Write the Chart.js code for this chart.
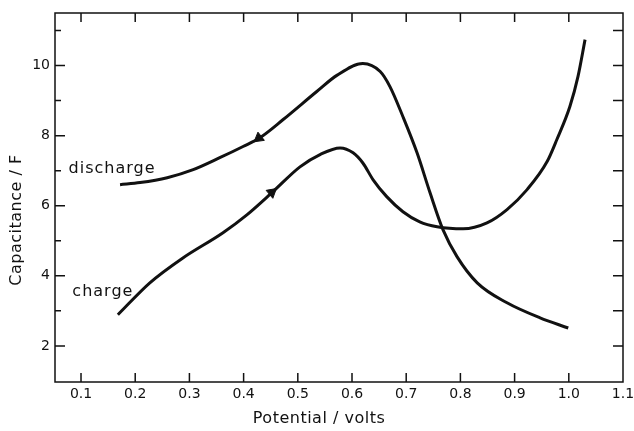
<!DOCTYPE html>
<html>
<head>
<meta charset="utf-8">
<script src="https://cdn.jsdelivr.net/npm/chart.js@4"></script>
<style>
  html, body { margin: 0; padding: 0; background: #fff; }
  #wrap { width: 634px; height: 431px; }
</style>
</head>
<body>
<div id="wrap"><canvas id="myChart" width="634" height="431"></canvas></div>
<script>
// curva de descarga (de cima)
var dischargeX = [0.172, 0.209, 0.259, 0.307, 0.356, 0.399, 0.430, 0.473, 0.535, 0.572, 0.620, 0.652, 0.670, 0.694, 0.720, 0.744, 0.768, 0.794, 0.831, 0.886, 0.947, 0.999];
var dischargeY = [6.60, 6.66, 6.80, 7.03, 7.37, 7.69, 7.94, 8.46, 9.26, 9.72, 10.06, 9.83, 9.40, 8.54, 7.51, 6.37, 5.31, 4.54, 3.80, 3.23, 2.80, 2.51];

// curva de carga (de baixo)
var chargeX = [0.168, 0.227, 0.288, 0.362, 0.406, 0.454, 0.504, 0.541, 0.578, 0.602, 0.620, 0.639, 0.664, 0.694, 0.725, 0.757, 0.805, 0.849, 0.886, 0.923, 0.960, 0.978, 1.002, 1.017, 1.030];
var chargeY = [2.89, 3.80, 4.51, 5.23, 5.74, 6.40, 7.11, 7.46, 7.65, 7.51, 7.22, 6.74, 6.26, 5.83, 5.54, 5.40, 5.34, 5.51, 5.89, 6.46, 7.26, 7.89, 8.83, 9.69, 10.74];

// setas (posicao e direcao)
var arrowDischarge = { x: 0.428, y: 7.93, rot: 232 };
var arrowCharge = { x: 0.452, y: 6.38, rot: 50 };

var xTicks = [0.1, 0.2, 0.3, 0.4, 0.5, 0.6, 0.7, 0.8, 0.9, 1.0, 1.1];
var yTicks = [2, 4, 6, 8, 10];
var yMinor = [3, 5, 7, 9, 11];

var curveLabels = [
    { text: 'discharge', x: 0.077, y: 7.05 },
    { text: 'charge', x: 0.084, y: 3.54 }
];

function pontos(xs, ys) {
    var lista = [];
    for (var i = 0; i < xs.length; i++) {
        lista.push({ x: xs[i], y: ys[i] });
    }
    return lista;
}

const fonte = "'DejaVu Sans', sans-serif";
const tinta = '#111';

// moldura, ticks para dentro, rotulos e titulos
const molduraPlugin = {
    id: 'moldura',
    afterDatasetsDraw(chart) {
        const ctx = chart.ctx;
        const a = chart.chartArea;
        const sx = chart.scales.x;
        const sy = chart.scales.y;
        ctx.save();
        ctx.strokeStyle = tinta;
        ctx.lineWidth = 1.5;
        ctx.strokeRect(a.left, a.top, a.right - a.left, a.bottom - a.top);

        ctx.beginPath();
        xTicks.forEach(v => {
            const px = sx.getPixelForValue(v);
            if (px > a.right - 2) return;
            ctx.moveTo(px, a.bottom);
            ctx.lineTo(px, a.bottom - 9);
            ctx.moveTo(px, a.top);
            ctx.lineTo(px, a.top + 9);
        });
        yTicks.forEach(v => {
            const py = sy.getPixelForValue(v);
            ctx.moveTo(a.left, py);
            ctx.lineTo(a.left + 10, py);
            ctx.moveTo(a.right, py);
            ctx.lineTo(a.right - 10, py);
        });
        yMinor.forEach(v => {
            const py = sy.getPixelForValue(v);
            ctx.moveTo(a.left, py);
            ctx.lineTo(a.left + 6, py);
            ctx.moveTo(a.right, py);
            ctx.lineTo(a.right - 10, py);
        });
        ctx.stroke();

        ctx.fillStyle = tinta;
        ctx.font = '16px ' + fonte;
        ctx.letterSpacing = '1px';
        ctx.textBaseline = 'middle';
        ctx.textAlign = 'left';
        curveLabels.forEach(l => {
            ctx.fillText(l.text, sx.getPixelForValue(l.x), sy.getPixelForValue(l.y));
        });

        ctx.letterSpacing = '0.5px';
        ctx.textAlign = 'center';
        ctx.fillText('Potential / volts', 319, 419);
        ctx.translate(17, 220);
        ctx.rotate(-Math.PI / 2);
        ctx.fillText('Capacitance / F', 0, 0);
        ctx.restore();
    }
};

const config = {
    type: 'scatter',
    data: {
        datasets: [{
            label: 'discharge',
            data: pontos(dischargeX, dischargeY),
            showLine: true,
            borderColor: tinta,
            borderWidth: 3,
            pointRadius: 0,
            cubicInterpolationMode: 'monotone'
        }, {
            label: 'charge',
            data: pontos(chargeX, chargeY),
            showLine: true,
            borderColor: tinta,
            borderWidth: 3,
            pointRadius: 0,
            cubicInterpolationMode: 'monotone'
        }, {
            label: 'seta descarga',
            data: [{ x: arrowDischarge.x, y: arrowDischarge.y }],
            pointStyle: 'triangle',
            pointRadius: 6,
            rotation: arrowDischarge.rot,
            backgroundColor: tinta,
            borderColor: tinta,
            borderWidth: 1
        }, {
            label: 'seta carga',
            data: [{ x: arrowCharge.x, y: arrowCharge.y }],
            pointStyle: 'triangle',
            pointRadius: 6,
            rotation: arrowCharge.rot,
            backgroundColor: tinta,
            borderColor: tinta,
            borderWidth: 1
        }]
    },
    options: {
        responsive: false,
        animation: false,
        layout: { padding: { top: 13, right: 11, left: 0, bottom: 0 } },
        plugins: {
            legend: { display: false },
            tooltip: { enabled: false }
        },
        scales: {
            x: {
                type: 'linear',
                min: 0.052,
                max: 1.1,
                grid: { display: false, drawTicks: false },
                border: { display: false },
                afterBuildTicks: s => { s.ticks = xTicks.map(v => ({ value: v })); },
                afterFit: s => { s.height = 49; s.paddingRight = 0; s.paddingLeft = 0; },
                ticks: {
                    padding: 4,
                    color: tinta,
                    font: { family: fonte, size: 14 },
                    callback: v => Number(v).toFixed(1)
                }
            },
            y: {
                type: 'linear',
                min: 0.97,
                max: 11.5,
                grid: { display: false, drawTicks: false },
                border: { display: false },
                afterBuildTicks: s => { s.ticks = yTicks.map(v => ({ value: v })); },
                afterFit: s => { s.width = 55; s.paddingTop = 0; s.paddingBottom = 0; },
                ticks: {
                    padding: 5,
                    color: tinta,
                    font: { family: fonte, size: 14 }
                }
            }
        }
    },
    plugins: [molduraPlugin]
};

const myChart = new Chart(document.getElementById('myChart'), config);
</script>
</body>
</html>
